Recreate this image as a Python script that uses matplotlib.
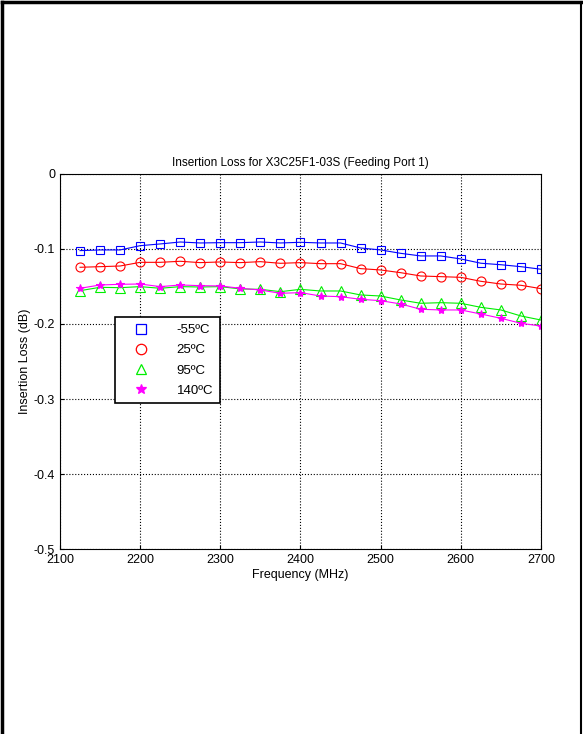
import matplotlib
matplotlib.use("Agg")
import matplotlib.pyplot as plt
from matplotlib.lines import Line2D

plt.rcParams['font.family'] = ['Liberation Sans', 'DejaVu Sans']

freq = list(range(2125, 2701, 25))
m55 = [-0.1022,-0.1013,-0.1013,-0.0956,-0.0933,-0.0907,-0.092,-0.0916,-0.0916,-0.0907,-0.092,-0.0911,-0.092,-0.092,-0.0987,-0.1013,-0.1058,-0.1093,-0.1093,-0.1133,-0.119,-0.121,-0.1236,-0.127]
p25 = [-0.1244,-0.1236,-0.1227,-0.1178,-0.1178,-0.1164,-0.1182,-0.1173,-0.1182,-0.1169,-0.1191,-0.1182,-0.1196,-0.1196,-0.1262,-0.128,-0.1316,-0.136,-0.1369,-0.1378,-0.1431,-0.1467,-0.1484,-0.1529]
p95 = [-0.1556,-0.1511,-0.1516,-0.1502,-0.1524,-0.1502,-0.1507,-0.1502,-0.1533,-0.1538,-0.1569,-0.1538,-0.156,-0.156,-0.1613,-0.1627,-0.168,-0.1724,-0.1716,-0.1724,-0.1778,-0.1813,-0.1893,-0.1947]
p140 = [-0.1524,-0.148,-0.1471,-0.1467,-0.1502,-0.148,-0.1489,-0.1493,-0.1524,-0.1547,-0.1591,-0.1582,-0.1627,-0.1636,-0.1671,-0.1689,-0.1733,-0.1804,-0.1813,-0.1813,-0.1867,-0.1924,-0.1991,-0.2027]
labels = ['-55ºC', '25ºC', '95ºC', '140ºC']

fig = plt.figure(figsize=(5.83, 7.34), dpi=100)
fig.add_artist(Line2D([0.004, 0.004], [0, 0.997], color='black', lw=2.5, transform=fig.transFigure))
fig.add_artist(Line2D([0.004, 0.996], [0.997, 0.997], color='black', lw=2.5, transform=fig.transFigure))
fig.add_artist(Line2D([0.996, 0.996], [0, 0.997], color='black', lw=1.5, transform=fig.transFigure))

ax = fig.add_axes([0.1029, 0.252, 0.825, 0.511])
series = [(m55, 'b', 's', 'none', 6), (p25, 'r', 'o', 'none', 6.5), (p95, '#00ee00', '^', 'none', 6.5), (p140, 'magenta', '*', 'magenta', 6)]
handles = []
for (vals, c, m, fc, ms), lab in zip(series, labels):
    ax.plot(freq, vals, color=c, lw=0.8, marker=m, mfc=fc, mec=c, ms=ms, mew=0.8)
    handles.append(Line2D([], [], linestyle='none', marker=m, mfc=fc, mec=c, ms=ms + 1, mew=0.9, label=lab))

ax.set_xlim(2100, 2700)
ax.set_ylim(-0.5, 0)
ax.set_xticks(range(2100, 2701, 100))
ax.set_yticks([-0.5, -0.4, -0.3, -0.2, -0.1, 0])
ax.set_yticklabels(['-0.5', '-0.4', '-0.3', '-0.2', '-0.1', '0'])
ax.grid(True, color='black', linestyle=':', lw=0.8)
ax.tick_params(direction='in', labelsize=9, length=3)
for s in ax.spines.values():
    s.set_linewidth(0.8)
ax.set_title('Insertion Loss for X3C25F1-03S (Feeding Port 1)', fontsize=8.5, pad=6)
ax.set_xlabel('Frequency (MHz)', fontsize=9, labelpad=2)
ax.set_ylabel('Insertion Loss (dB)', fontsize=9, labelpad=2)
leg = ax.legend(handles=handles, loc='upper left', bbox_to_anchor=(0.1, 0.635), fontsize=9.5, frameon=True,
                fancybox=False, edgecolor='black', framealpha=1, handlelength=3, handletextpad=1.2,
                borderpad=0.5, labelspacing=0.6)
leg.get_frame().set_linewidth(1.2)

fig.savefig('out.png', dpi=100)
